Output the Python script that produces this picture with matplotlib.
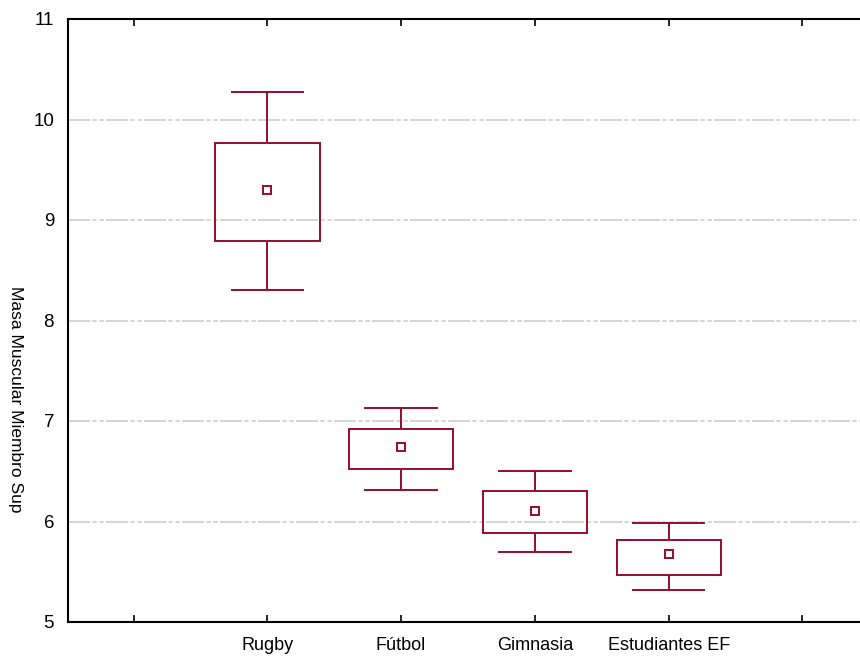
import matplotlib.pyplot as plt
from matplotlib.patches import Rectangle

# mean, +-SE box, +-1.96 SE whiskers
categories = ["Rugby", "Fútbol", "Gimnasia", "Estudiantes EF"]
means = [9.30, 6.74, 6.10, 5.68]
box_low = [8.79, 6.52, 5.89, 5.47]
box_high = [9.77, 6.92, 6.30, 5.82]
whisk_low = [8.30, 6.31, 5.70, 5.32]
whisk_high = [10.27, 7.13, 6.50, 5.99]
yticks = [5, 6, 7, 8, 9, 10, 11]

color = '#960c2c'
plt.rcParams['font.family'] = ['Liberation Sans', 'DejaVu Sans']

fig = plt.figure(figsize=(8.6, 6.56), dpi=100)
ax = fig.add_axes([68 / 860, 1 - 622 / 656, 1 - 68 / 860, (622 - 19) / 656])

xs = list(range(1, len(categories) + 1))
box_w = 0.78
cap_w = 0.55

for x, lo, hi, wl, wh, m in zip(xs, box_low, box_high, whisk_low, whisk_high, means):
    ax.add_patch(Rectangle((x - box_w / 2, lo), box_w, hi - lo, fill=False,
                           edgecolor=color, linewidth=1.4, zorder=3))
    ax.vlines(x, hi, wh, color=color, linewidth=1.4, zorder=3)
    ax.vlines(x, wl, lo, color=color, linewidth=1.4, zorder=3)
    ax.hlines([wl, wh], x - cap_w / 2, x + cap_w / 2, color=color, linewidth=1.4, zorder=3)
    ax.plot(x, m, marker='s', markersize=5.5, markerfacecolor='white',
            markeredgecolor=color, markeredgewidth=1.4, zorder=4)

# dash-dot-dot grid
for y in yticks[1:-1]:
    ax.axhline(y, color='#cdcdca', linewidth=1.2,
               dashes=(13.3, 1.3, 2.6, 1.7, 2.6, 1.3), zorder=1)

ax.set_xlim(-0.49, 5.43)
ax.set_ylim(5, 11)
ax.set_yticks(yticks)
ax.set_xticks(range(0, 6))
ax.set_xticklabels([''] + categories + [''])
ax.tick_params(axis='x', direction='in', length=5, width=1.2, top=True, labelsize=13, pad=11)
ax.tick_params(axis='y', direction='in', length=0, labelsize=13.5, pad=10)

for side in ['left', 'top', 'bottom']:
    ax.spines[side].set_linewidth(1.5)
ax.spines['right'].set_visible(False)

fig.text(15 / 860, 1 - 399 / 656, 'Masa Muscular Miembro Sup', rotation=270,
         ha='center', va='center', fontsize=12.5)

fig.savefig('out.png', dpi=100)
